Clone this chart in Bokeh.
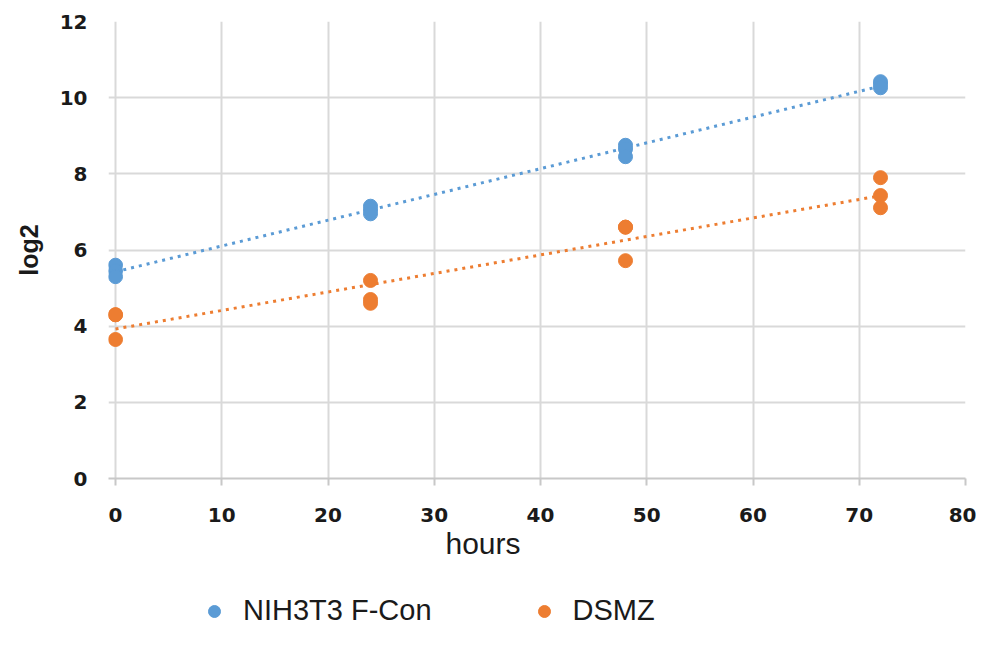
import numpy as np
from bokeh.plotting import figure
from bokeh.layouts import column
from bokeh.models import Range1d, Legend, LegendItem, FixedTicker, Title
from bokeh.embed import file_html
from bokeh.resources import INLINE

# data
nih_hours = [0, 0, 0, 24, 24, 24, 48, 48, 48, 72, 72, 72]
nih_log2 = [5.6, 5.45, 5.3, 7.15, 7.05, 6.95, 8.75, 8.65, 8.45, 10.42, 10.35, 10.26]
dsmz_hours = [0, 0, 0, 24, 24, 24, 48, 48, 48, 72, 72, 72]
dsmz_log2 = [4.3, 4.3, 3.65, 5.2, 4.7, 4.6, 6.6, 6.6, 5.72, 7.9, 7.43, 7.11]
x_ticks = [0, 10, 20, 30, 40, 50, 60, 70, 80]
y_ticks = [0, 2, 4, 6, 8, 10, 12]
x_title = "hours"
y_title = "log2"
series_names = ["NIH3T3 F-Con", "DSMZ"]

BLUE = "#5B9BD5"
ORANGE = "#ED7D31"
TEXT = "#1a1a1a"
GRID = "#D9D9D9"
AXIS = "#C8C8C8"

# a small margin left of x=0 keeps the markers at x=0 whole (the 0 gridline acts as the y axis line)
p = figure(width=976, height=590, output_backend="svg", toolbar_location=None,
           x_range=Range1d(-0.66, 80), y_range=Range1d(0, 12),
           min_border_left=108, min_border_right=11, min_border_top=21, min_border_bottom=112)
p.outline_line_color = None
p.background_fill_color = "white"

for ax in (p.xaxis[0], p.yaxis[0]):
    ax.axis_line_width = 2
    ax.minor_tick_line_color = None
    ax.major_label_text_font = "DejaVu Sans"
    ax.major_label_text_font_style = "bold"
    ax.major_label_text_font_size = "20px"
    ax.major_label_text_color = TEXT

p.xaxis.axis_line_color = AXIS
p.yaxis.axis_line_color = None
p.xaxis.ticker = FixedTicker(ticks=x_ticks)
p.yaxis.ticker = FixedTicker(ticks=y_ticks)
p.xaxis.major_tick_line_color = AXIS
p.xaxis.major_tick_line_width = 2
p.xaxis.major_tick_in = 0
p.xaxis.major_tick_out = 7
p.yaxis.major_tick_line_color = None
p.yaxis.major_tick_in = 0
p.yaxis.major_tick_out = 0
p.xaxis.major_label_standoff = 22
p.yaxis.major_label_standoff = 21

p.yaxis.axis_label = y_title
p.yaxis.axis_label_text_font = "Liberation Sans"
p.yaxis.axis_label_text_font_style = "bold"
p.yaxis.axis_label_text_font_size = "25px"
p.yaxis.axis_label_text_color = TEXT
p.yaxis.axis_label_standoff = 14

p.xgrid.grid_line_color = GRID
p.ygrid.grid_line_color = GRID
p.xgrid.grid_line_width = 2
p.ygrid.grid_line_width = 2

# x-axis title (left of centre as in the original), placed below the axis
p.add_layout(Title(text=x_title, align="left", offset=337, standoff=0,
                   text_font="Liberation Sans", text_font_style="normal",
                   text_font_size="30px", text_color=TEXT), "below")

# trend lines (least squares from data)
for xs, ys, c in ((nih_hours, nih_log2, BLUE), (dsmz_hours, dsmz_log2, ORANGE)):
    m, b = np.polyfit(xs, ys, 1)
    xx = [min(xs), max(xs)]
    p.line(xx, [m * v + b for v in xx], line_color=c, line_width=3, line_dash="3 5")

p.scatter(nih_hours, nih_log2, size=14, color=BLUE)
p.scatter(dsmz_hours, dsmz_log2, size=14, color=ORANGE)

# legend strip below the chart (proxy markers lie outside its visible range)
q = figure(width=976, height=40, output_backend="svg", toolbar_location=None,
           x_range=Range1d(0, 1), y_range=Range1d(0, 1),
           min_border_left=0, min_border_right=0, min_border_top=0, min_border_bottom=0)
q.axis.visible = False
q.grid.visible = False
q.outline_line_color = None
l1 = q.scatter([5], [5], size=14, color=BLUE)
l2 = q.scatter([5], [5], size=14, color=ORANGE)
legend = Legend(items=[LegendItem(label=series_names[0], renderers=[l1]),
                       LegendItem(label=series_names[1], renderers=[l2])],
                orientation="horizontal", location=(91, 3),
                label_text_font="Liberation Sans", label_text_font_size="29px",
                label_text_color=TEXT, glyph_width=30, glyph_height=30,
                label_height=30, padding=0, margin=0,
                spacing=97, border_line_color=None, background_fill_alpha=0,
                label_standoff=14)
q.add_layout(legend, "center")

open("out.html", "w").write(file_html(column(p, q, spacing=0), INLINE))
